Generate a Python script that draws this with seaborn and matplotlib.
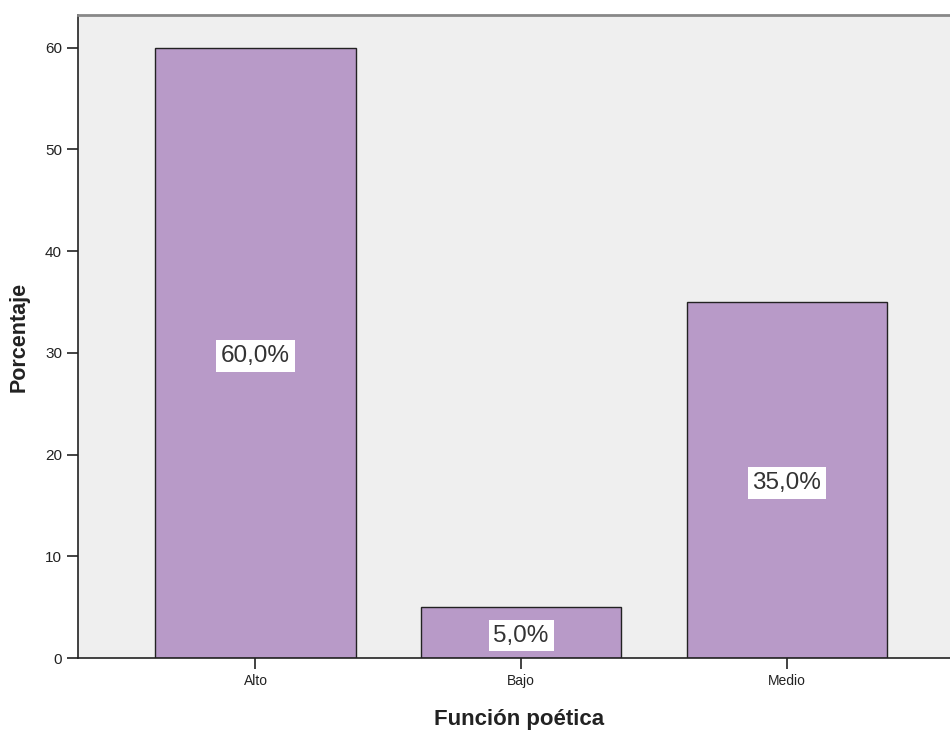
import matplotlib
matplotlib.use("Agg")
import matplotlib.pyplot as plt
import seaborn as sns
import pandas as pd

categories = ["Alto", "Bajo", "Medio"]
values = [60.0, 5.0, 35.0]
labels = ["60,0%", "5,0%", "35,0%"]
yticks = [0, 10, 20, 30, 40, 50, 60]

sns.set_theme(style="white")
plt.rcParams['font.family'] = ['Liberation Sans', 'DejaVu Sans']

df = pd.DataFrame({"cat": categories, "val": values})

fig = plt.figure(figsize=(9.5, 7.31), dpi=100)
ax = fig.add_axes([78/950, (731-658)/731, 1 - 78/950 + 0.01, (658-15)/731])
ax.set_facecolor("#EFEFEF")

sns.barplot(data=df, x="cat", y="val", color="#B89AC8", saturation=1,
            width=0.755, edgecolor="#222222", linewidth=1.0, ax=ax)

for p, lab in zip(ax.patches, labels):
    xc = p.get_x() + p.get_width() / 2
    yc = p.get_height() / 2 - 0.3
    ax.text(xc, yc, lab, ha="center", va="center", fontsize=17.5, color="#333333",
            bbox=dict(boxstyle="square,pad=0.2", fc="white", ec="none"))

ax.set_xlim(-0.668, 2.65)
ax.set_ylim(0, 63.2)
ax.set_yticks(yticks)
ax.set_yticklabels([str(t) for t in yticks])
ax.tick_params(axis="both", direction="out", length=8, width=1.2, color="#222222",
               labelsize=10, labelcolor="#222222", left=True, bottom=True)
ax.tick_params(axis="y", labelsize=11)

for s in ["left", "bottom"]:
    ax.spines[s].set_color("#222222")
    ax.spines[s].set_linewidth(1.2)
ax.spines["top"].set_color("#888888")
ax.spines["top"].set_linewidth(2.0)
ax.spines["right"].set_visible(False)

ax.set_xlabel("Función poética", fontsize=16, fontweight="bold", color="#222222", labelpad=15)
ax.set_ylabel("Porcentaje", fontsize=15.5, fontweight="bold", color="#222222", labelpad=11)

fig.savefig("out.png", dpi=100)
